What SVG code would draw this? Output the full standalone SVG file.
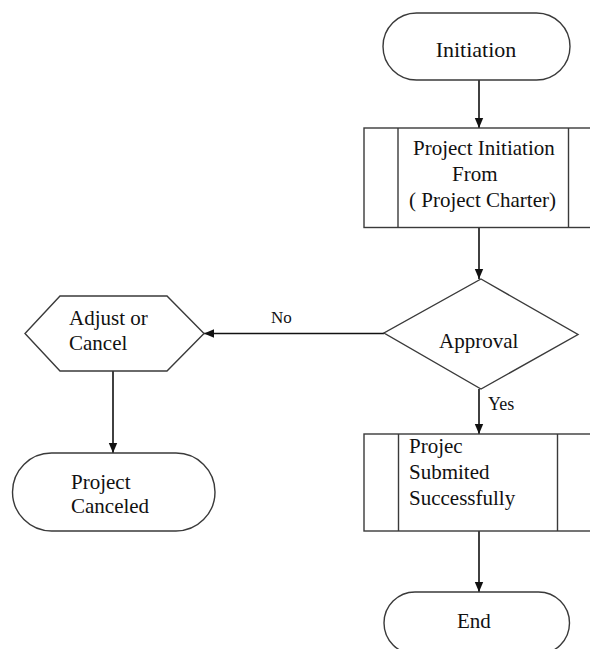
<svg xmlns="http://www.w3.org/2000/svg" width="590" height="649" viewBox="0 0 590 649">
<style>
.s{fill:#fff;stroke:#3a3a3a;stroke-width:1.4}
.t{font-family:"Liberation Serif","Times New Roman",serif;font-size:21px;fill:#111}
.c{fill:none;stroke:#111;stroke-width:1.6}
</style>
<defs>
<marker id="ah" markerUnits="userSpaceOnUse" markerWidth="10" markerHeight="10" viewBox="0 0 10 10" refX="10" refY="5" orient="auto">
<path d="M0,0.8 L10,5 L0,9.2 Z" fill="#111"/>
</marker>
</defs>
<rect width="590" height="649" fill="#fff"/>
<g id="connectors">
<line class="c" x1="479" y1="80" x2="479" y2="128" marker-end="url(#ah)"/>
<line class="c" x1="479" y1="228" x2="479" y2="279" marker-end="url(#ah)"/>
<line class="c" x1="384" y1="333.5" x2="204" y2="333.5" marker-end="url(#ah)"/>
<line class="c" x1="479" y1="389" x2="479" y2="434" marker-end="url(#ah)"/>
<line class="c" x1="479" y1="531" x2="479" y2="592" marker-end="url(#ah)"/>
<line class="c" x1="113" y1="371" x2="113" y2="453" marker-end="url(#ah)"/>
<text class="t" x="271" y="323" style="font-size:17px">No</text>
<text class="t" x="488" y="410" style="font-size:18px">Yes</text>
</g>
<g id="initiation">
<rect class="s" x="383" y="13" width="187" height="67" rx="33.5"/>
<text class="t" x="476" y="57" text-anchor="middle" style="font-size:22px">Initiation</text>
</g>
<g id="charter">
<rect class="s" x="364" y="128" width="240" height="99.5"/>
<line class="s" x1="398" y1="128" x2="398" y2="227.5"/>
<line class="s" x1="568.5" y1="128" x2="568.5" y2="227.5"/>
<text class="t" x="413" y="155">Project Initiation</text>
<text class="t" x="452" y="181">From</text>
<text class="t" x="409" y="207">( Project Charter)</text>
</g>
<g id="approval">
<polygon class="s" points="481,279 578,334.5 481,389 384,333"/>
<text class="t" x="439" y="348">Approval</text>
</g>
<g id="adjust">
<polygon class="s" points="60,296 167,296 204,333.5 167,371 60,371 25,333.5"/>
<text class="t" x="69" y="325">Adjust or</text>
<text class="t" x="69" y="350">Cancel</text>
</g>
<g id="canceled">
<rect class="s" x="12.5" y="453" width="202.5" height="78" rx="39"/>
<text class="t" x="71" y="489">Project</text>
<text class="t" x="71" y="513">Canceled</text>
</g>
<g id="submitted">
<rect class="s" x="364" y="434" width="240" height="97"/>
<line class="s" x1="398.5" y1="434" x2="398.5" y2="531"/>
<line class="s" x1="557.5" y1="434" x2="557.5" y2="531"/>
<text class="t" x="409" y="453">Projec</text>
<text class="t" x="409" y="479">Submited</text>
<text class="t" x="409" y="505">Successfully</text>
</g>
<g id="end">
<rect class="s" x="384" y="592" width="185.5" height="62" rx="31"/>
<text class="t" x="457" y="628">End</text>
</g>
</svg>
